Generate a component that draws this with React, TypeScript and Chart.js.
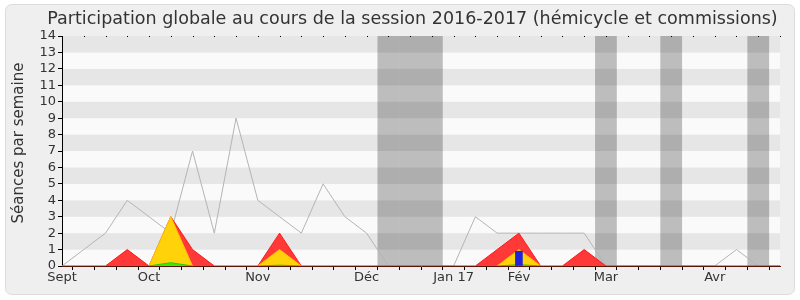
import React, { useEffect, useRef } from "react";
import { Chart, registerables } from "chart.js";

Chart.register(...registerables);

const titleText = "Participation globale au cours de la session 2016-2017 (hémicycle et commissions)";
const yTitleText = "Séances par semaine";

const weekLabels = [
  "Sept", "", "", "", "Oct", "", "", "", "", "Nov", "", "", "", "", "Déc", "", "", "",
  "Jan 17", "", "", "Fév", "", "", "", "Mar", "", "", "", "", "Avr", "", "", "",
];

// grey line: total sessions per week
const totalSeances = [0, 1, 2, 4, 3, 2, 7, 2, 9, 4, 3, 2, 5, 3, 2, 0, 0, 0, 0, 3, 2, 2, 2, 2, 2, 0, 0, 0, 0, 0, 0, 1, 0, 0];
// red area
const presences = [0, 0, 0, 1, 0, 3, 1, 0, 0, 0, 2, 0, 0, 0, 0, 0, 0, 0, 0, 0, 1, 2, 0, 0, 1, 0, 0, 0, 0, 0, 0, 0, 0, 0];
// yellow area
const participations = [null, null, null, null, 0, 3, 0, null, null, 0, 1, 0, null, null, null, null, null, null, null, null, 0, 1, 0, null, null, null, null, null, null, null, null, null, null, null];
// green area
const interventions = [null, null, null, null, 0, 0.2, 0, null, null, 0, 0.05, 0, null, null, null, null, null, null, null, null, 0, 0.08, 0, null, null, null, null, null, null, null, null, null, null, null];
// blue bar
const questions = [null, null, null, null, null, null, null, null, null, null, null, null, null, null, null, null, null, null, null, null, null, 0.9, null, null, null, null, null, null, null, null, null, null, null, null];
// shaded weeks (holidays)
const vacationWeeks = [15, 16, 17, 25, 28, 32];

const FONT = "'DejaVu Sans', sans-serif";

const decorPlugin = {
  id: "decor",
  beforeDraw(chart: any) {
    const ctx = chart.ctx;
    ctx.save();
    ctx.fillStyle = "#ffffff";
    ctx.fillRect(0, 0, chart.width, chart.height);
    ctx.beginPath();
    ctx.roundRect(5.5, 4.5, 789, 290, 6);
    ctx.fillStyle = "#efefef";
    ctx.fill();
    ctx.strokeStyle = "#dcdcdc";
    ctx.lineWidth = 1;
    ctx.stroke();

    const { left, right, top, bottom } = chart.chartArea;
    const ys = chart.scales.y;
    for (let v = 0; v < 14; v++) {
      const y0 = ys.getPixelForValue(v);
      const y1 = ys.getPixelForValue(v + 1);
      ctx.fillStyle = v % 2 ? "#e6e6e6" : "#fafafa";
      ctx.fillRect(left, y1, right - left, y0 - y1);
    }
    const xs = chart.scales.x;
    const step = xs.getPixelForValue(1) - xs.getPixelForValue(0);
    ctx.fillStyle = "rgba(0,0,0,0.245)";
    vacationWeeks.forEach((i) => {
      const c = xs.getPixelForValue(i);
      ctx.fillRect(c - step / 2, top, step, bottom - top);
    });

    // title, sized to span the same width as the reference
    ctx.fillStyle = "#333333";
    ctx.font = `17px ${FONT}`;
    const w = ctx.measureText(titleText).width;
    const size = Math.min(20, (17 * 731) / w);
    ctx.font = `${size.toFixed(2)}px ${FONT}`;
    ctx.textAlign = "center";
    ctx.textBaseline = "middle";
    ctx.fillText(titleText, 412.5, 19);

    // y title
    ctx.save();
    ctx.translate(19, 143);
    ctx.rotate(-Math.PI / 2);
    ctx.font = `15px ${FONT}`;
    ctx.fillText(yTitleText, 0, 0);
    ctx.restore();
    ctx.restore();
  },
  afterDraw(chart: any) {
    const ctx = chart.ctx;
    const xs = chart.scales.x;
    const { top } = chart.chartArea;
    ctx.save();
    ctx.fillStyle = "#000000";
    for (let i = 0; i < weekLabels.length; i++) {
      const px = Math.round(xs.getPixelForValue(i));
      ctx.fillRect(px, Math.round(top), 1, 1);
    }
    ctx.restore();
  },
};

export default function App() {
  const ref = useRef<HTMLCanvasElement | null>(null);
  useEffect(() => {
    if (!ref.current) return;
    const chart = new Chart(ref.current, {
      type: "line",
      data: {
        labels: weekLabels,
        datasets: [
          {
            type: "bar",
            data: questions as any,
            backgroundColor: "#2222dd",
            barThickness: 7,
            order: 0,
          } as any,
          {
            data: interventions as any,
            borderColor: "#22cc00",
            backgroundColor: "#33ee00",
            borderWidth: 1,
            fill: "origin",
            pointRadius: 0,
            tension: 0,
            order: 1,
          },
          {
            data: participations as any,
            borderColor: "#ffc400",
            backgroundColor: "#ffd20a",
            borderWidth: 1,
            fill: "origin",
            pointRadius: 0,
            tension: 0,
            order: 2,
          },
          {
            data: presences,
            borderColor: "#ff1a1a",
            backgroundColor: "#ff3838",
            borderWidth: 1,
            fill: "origin",
            pointRadius: 0,
            tension: 0,
            order: 3,
          },
          {
            data: totalSeances,
            borderColor: "#b4b4b4",
            borderWidth: 1,
            fill: false,
            pointRadius: 0,
            tension: 0,
            order: 4,
          },
        ],
      },
      options: {
        animation: false,
        responsive: false,
        devicePixelRatio: 1,
        layout: { padding: { left: 0, right: 20, top: 36, bottom: 0 } },
        plugins: { legend: { display: false }, tooltip: { enabled: false }, title: { display: false } },
        scales: {
          x: {
            type: "category",
            offset: false,
            grid: { drawOnChartArea: false, drawTicks: true, tickLength: 4, color: "#000000" },
            border: { display: true, color: "#5a1408", z: 1 },
            ticks: {
              autoSkip: false,
              maxRotation: 0,
              padding: 0,
              color: "#333333",
              font: { family: FONT, size: 13 },
              callback: (v: any, i: number) => weekLabels[i],
            },
            afterFit: (s: any) => { s.height = 34; },
          },
          y: {
            min: 0,
            max: 14,
            grid: { drawOnChartArea: false, drawTicks: true, tickLength: 4, color: "#000000" },
            border: { display: true, color: "#000000" },
            ticks: {
              stepSize: 1,
              autoSkip: false,
              padding: 2,
              color: "#333333",
              font: { family: FONT, size: 13 },
            },
            afterFit: (s: any) => { s.width = 62; },
          },
        },
      },
      plugins: [decorPlugin],
    });
    return () => chart.destroy();
  }, []);
  return (
    <div style={{ position: "absolute", left: 0, top: 0, width: 800, height: 300 }}>
      <canvas ref={ref} width={800} height={300} />
    </div>
  );
}
